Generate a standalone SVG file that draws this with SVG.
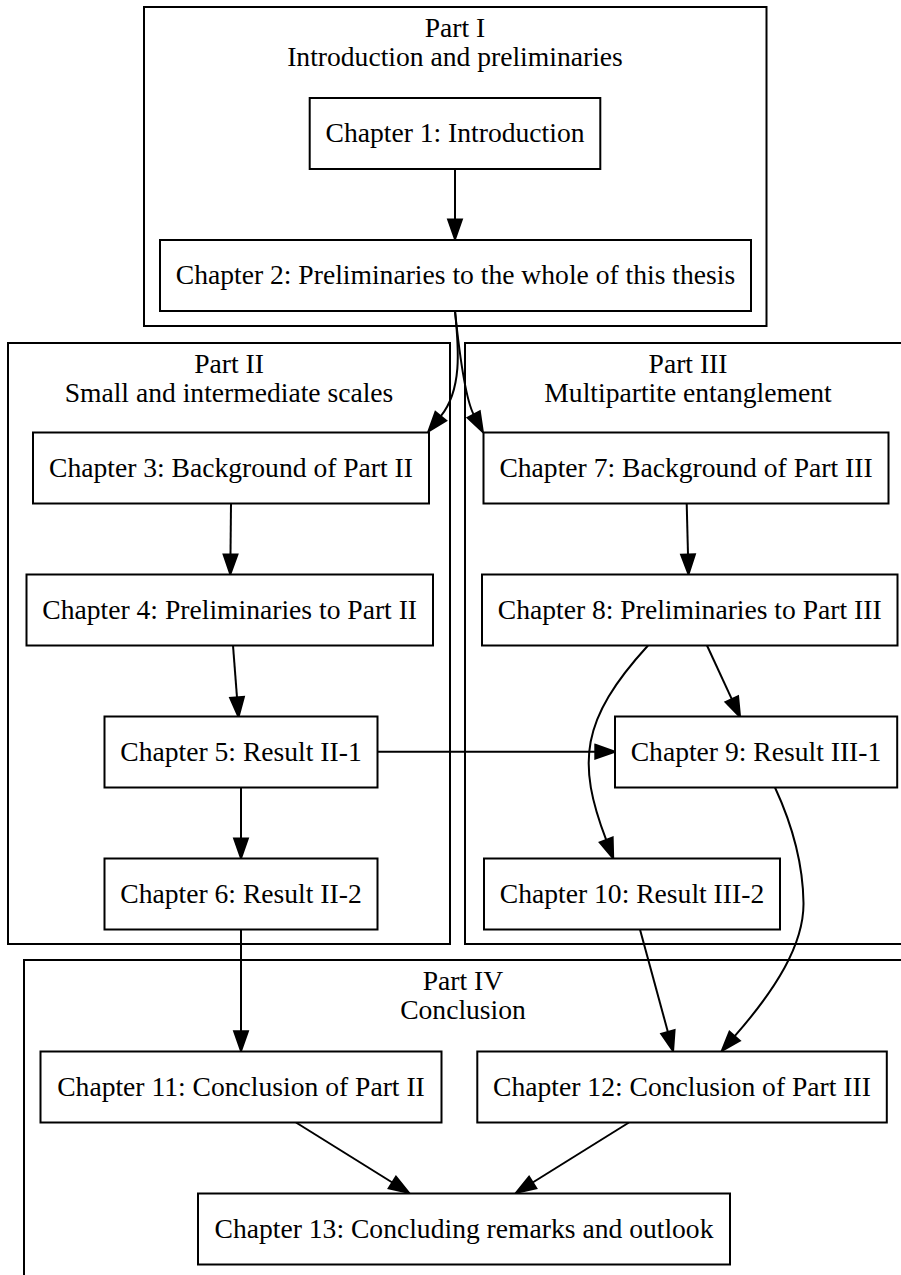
<svg xmlns="http://www.w3.org/2000/svg" width="901" height="1275" viewBox="0 0 901 1275">
  <style>
    text { font-family: "Liberation Serif", "Times New Roman", serif; font-size: 27.6px; fill: #000; text-anchor: middle; }
    .cluster { fill: none; stroke: #000; stroke-width: 2; }
    .node rect { fill: #fff; stroke: #000; stroke-width: 2; }
    .edges path { fill: none; stroke: #000; stroke-width: 2; marker-end: url(#arrow); }
  </style>
  <defs>
    <marker id="arrow" markerUnits="userSpaceOnUse" markerWidth="24" markerHeight="18" refX="0" refY="6.9" orient="auto" overflow="visible">
      <path d="M0,0 L19.7,6.9 L0,13.8 Z" fill="#000" stroke="#000" stroke-width="2"/>
    </marker>
  </defs>
  <rect width="901" height="1275" fill="#fff"/>

  <!-- Parts (clusters) -->
  <g id="part1">
    <rect class="cluster" x="144" y="7" width="622.5" height="319"/>
    <text x="455" y="37">Part I</text>
    <text x="455" y="66">Introduction and preliminaries</text>
  </g>
  <g id="part2">
    <rect class="cluster" x="8" y="343" width="442" height="601"/>
    <text x="229" y="373">Part II</text>
    <text x="229" y="402">Small and intermediate scales</text>
  </g>
  <g id="part3">
    <rect class="cluster" x="465" y="343" width="446" height="601"/>
    <text x="688" y="373">Part III</text>
    <text x="688" y="402">Multipartite entanglement</text>
  </g>
  <g id="part4">
    <rect class="cluster" x="24" y="960" width="878" height="322"/>
    <text x="463" y="990">Part IV</text>
    <text x="463" y="1019">Conclusion</text>
  </g>

  <!-- Connectors -->
  <g class="edges" id="edges">
    <path d="M455,169 L455,219.5"/>
    <path d="M455,311 C459,350 462,390 440.8,416.2"/>
    <path d="M455,311 C459,350 466,400 473.7,414.6"/>
    <path d="M231,503.5 L230.5,554.5"/>
    <path d="M686.7,503.5 L688,554.5"/>
    <path d="M233,645.5 L237,697.4"/>
    <path d="M707,645.5 L731.8,699.1"/>
    <path d="M648,645.5 C580,720 577,763 606.2,839.9"/>
    <path d="M377.6,751.7 L595.3,751.7"/>
    <path d="M241,787.5 L241,838.5"/>
    <path d="M775,787.5 C790,820 803,860 803.5,903 C804,945 775,990 734.7,1036.2"/>
    <path d="M241,929.5 L241,1031.3"/>
    <path d="M640,929.5 L667.9,1032"/>
    <path d="M296,1122.5 L392.3,1182.5"/>
    <path d="M629,1122.5 L532.7,1182.5"/>
  </g>

  <!-- Chapters -->
  <g class="node" id="ch1">
    <rect x="309.7" y="98" width="290.6" height="71"/>
    <text x="455" y="142">Chapter 1: Introduction</text>
  </g>
  <g class="node" id="ch2">
    <rect x="160" y="240" width="591" height="71"/>
    <text x="455.5" y="283.5">Chapter 2: Preliminaries to the whole of this thesis</text>
  </g>
  <g class="node" id="ch3">
    <rect x="33" y="432.5" width="396" height="71"/>
    <text x="231" y="476.5">Chapter 3: Background of Part II</text>
  </g>
  <g class="node" id="ch4">
    <rect x="26.5" y="574.5" width="406.5" height="71"/>
    <text x="229.7" y="618.5">Chapter 4: Preliminaries to Part II</text>
  </g>
  <g class="node" id="ch5">
    <rect x="104.5" y="716.5" width="273" height="71"/>
    <text x="241" y="760.5">Chapter 5: Result II-1</text>
  </g>
  <g class="node" id="ch6">
    <rect x="104.5" y="858.5" width="273" height="71"/>
    <text x="241" y="902.5">Chapter 6: Result II-2</text>
  </g>
  <g class="node" id="ch7">
    <rect x="483.5" y="432.5" width="405" height="71"/>
    <text x="686" y="476.5">Chapter 7: Background of Part III</text>
  </g>
  <g class="node" id="ch8">
    <rect x="482" y="574.5" width="415.5" height="71"/>
    <text x="689.7" y="618.5">Chapter 8: Preliminaries to Part III</text>
  </g>
  <g class="node" id="ch9">
    <rect x="615" y="716.5" width="282.2" height="71"/>
    <text x="756" y="760.5">Chapter 9: Result III-1</text>
  </g>
  <g class="node" id="ch10">
    <rect x="484" y="858.5" width="296" height="71"/>
    <text x="632" y="902.5">Chapter 10: Result III-2</text>
  </g>
  <g class="node" id="ch11">
    <rect x="40.5" y="1051.5" width="401" height="71"/>
    <text x="241" y="1095.5">Chapter 11: Conclusion of Part II</text>
  </g>
  <g class="node" id="ch12">
    <rect x="477.3" y="1051.5" width="409.5" height="71"/>
    <text x="682" y="1095.5">Chapter 12: Conclusion of Part III</text>
  </g>
  <g class="node" id="ch13">
    <rect x="198" y="1193.5" width="532" height="71"/>
    <text x="464" y="1237.5">Chapter 13: Concluding remarks and outlook</text>
  </g>
</svg>
